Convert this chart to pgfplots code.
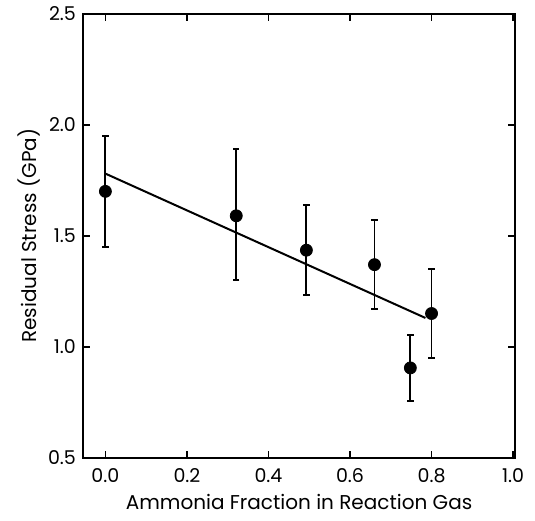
\documentclass[border=0pt]{standalone}
\usepackage{fontspec}
\setmainfont{Poppins}
\usepackage{pgfplots}
\pgfplotsset{compat=1.18}

\begin{document}
\begin{tikzpicture}
\begin{axis}[scale only axis, width=216pt, height=222pt,
  xmin=-0.055, xmax=1.005, ymin=0.5, ymax=2.5,
  xtick={0,0.2,0.4,0.6,0.8,1.0}, ytick={0.5,1.0,1.5,2.0,2.5},
  xticklabel style={yshift=-2pt, /pgf/number format/.cd, fixed, fixed zerofill, precision=1},
  yticklabel style={/pgf/number format/.cd, fixed, fixed zerofill, precision=1},
  /pgf/number format/assume math mode=true,
  tick align=inside, major tick length=3.5pt, minor tick num=0,
  axis line style={line width=1.2pt}, tick style={line width=0.8pt, black},
  tick label style={font=\fontsize{9.5}{11}\selectfont},
  label style={font=\fontsize{10}{12}\selectfont},
  xlabel={Ammonia Fraction in Reaction Gas},
  ylabel={Residual Stress (GPa)},
  xlabel style={yshift=1.5pt}, ylabel style={yshift=-3pt},
  clip=false]
\path (rel axis cs:-0.192,-0.142) rectangle (rel axis cs:1.046,1.027);
\addplot[black, line width=1pt] coordinates {(0.0,1.78) (0.785,1.13)};
\addplot[only marks, mark=*, mark size=3pt, black,
  error bars/.cd, y dir=both, y explicit,
  error bar style={line width=0.9pt},
  error mark options={rotate=90, line width=0.9pt, mark size=1.6pt}]
  coordinates {
  (0.000,1.70) += (0,0.25) -= (0,0.25)
  (0.321,1.59) += (0,0.30) -= (0,0.29)
  (0.493,1.435) += (0,0.205) -= (0,0.20)
  (0.660,1.37) += (0,0.20) -= (0,0.20)
  (0.748,0.905) += (0,0.15) -= (0,0.15)
  (0.800,1.15) += (0,0.20) -= (0,0.20)
  };
\end{axis}
\end{tikzpicture}
\end{document}
